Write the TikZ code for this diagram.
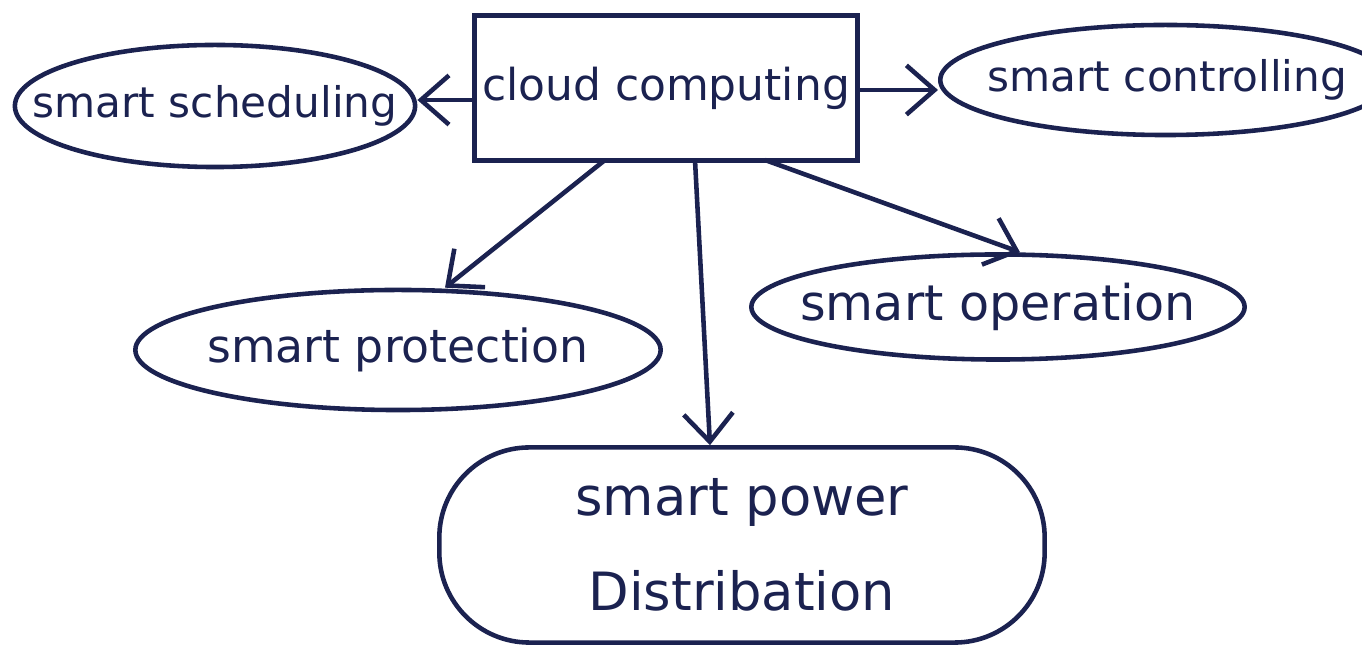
\documentclass[tikz,border=0pt]{standalone}
\usepackage{fontspec}
\setmainfont{DejaVu Sans}
\usetikzlibrary{shapes.geometric,arrows.meta}
\definecolor{ink}{HTML}{1B2250}
\tikzset{
  bubble/.style={ellipse, draw=ink, line width=1.3pt, inner sep=0pt},
  capsule/.style={rectangle, rounded corners=0.9cm, draw=ink, line width=1.3pt, inner sep=0pt},
  txt/.style={text=ink, inner sep=0pt, align=center},
  boxnode/.style={rectangle, draw=ink, line width=1.3pt, inner sep=0pt, text=ink},
  link/.style={draw=ink, line width=1.3pt, -{Straight Barb[length=8pt,width=14pt]}}
}
\begin{document}
\begin{tikzpicture}[x=0.01cm,y=-0.01cm]
\useasboundingbox (0,0) rectangle (1362,646);
\clip (0,0) rectangle (1362,646);
% central box
\node[boxnode, minimum width=3.83cm, minimum height=1.45cm, font=\fontsize{12.5}{15}\selectfont] (cloud) at (666,88) {cloud computing};
% surrounding ovals
\node[bubble, minimum width=4.0cm, minimum height=1.22cm,
  label={[txt, font=\fontsize{12}{15}\selectfont]center:smart scheduling}] (sched) at (215,106) {};
\node[bubble, minimum width=4.5cm, minimum height=1.1cm, anchor=west,
  label={[txt, font=\fontsize{12}{15}\selectfont, xshift=0.02cm]center:smart controlling}] (ctrl) at (938,80) {};
\node[bubble, minimum width=5.25cm, minimum height=1.2cm,
  label={[txt, font=\fontsize{13}{16}\selectfont]center:smart protection}] (prot) at (398,350) {};
\node[bubble, minimum width=4.93cm, minimum height=1.05cm,
  label={[txt, font=\fontsize{14}{17}\selectfont]center:smart operation}] (oper) at (998,307) {};
\node[capsule, minimum width=6.05cm, minimum height=1.95cm,
  label={[txt, font=\fontsize{15}{27}\selectfont]center:smart power\\Distribation}] (dist) at (742,545) {};
% connectors
\coordinate (p1) at (605,160);
\coordinate (p2) at (695,160);
\coordinate (p3) at (765,160);
\draw[link] (cloud.west |- 0,100) -- (sched.east |- 0,100);
\draw[link] (cloud.east |- 0,90) -- (ctrl.west |- 0,90);
\draw[link] (p1) -- (prot.north -| 445,0);
\draw[link] (p2) -- (dist.north -| 710,0);
\draw[link] (p3) -- (oper.north -| 1020,0);
\end{tikzpicture}
\end{document}
